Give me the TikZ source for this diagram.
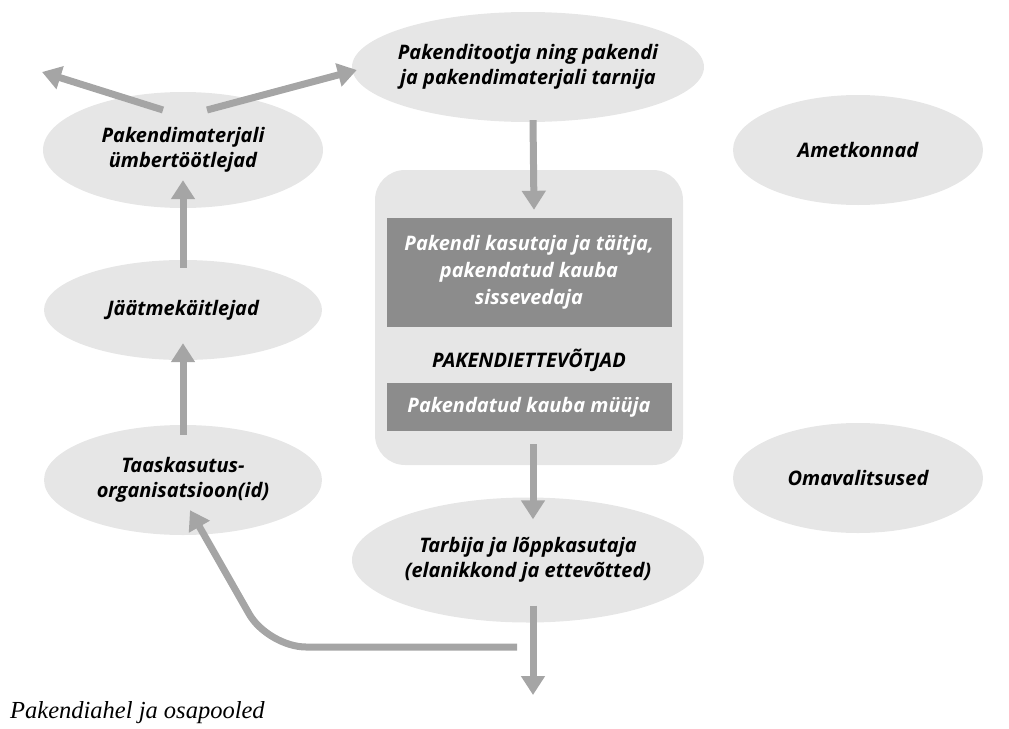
\documentclass[tikz,border=0pt]{standalone}
\usepackage{fontspec}
\setmainfont{Open Sans}
\newfontfamily\capfont{Liberation Serif}
\usetikzlibrary{shapes.geometric,arrows.meta}
\definecolor{ellfill}{HTML}{E6E6E6}
\definecolor{darkbox}{HTML}{8C8C8C}
\definecolor{arrcol}{HTML}{A5A5A5}
\tikzset{
  ell/.style={ellipse, fill=ellfill, inner xsep=-25pt, inner ysep=0pt, align=center,
    font=\fontsize{20}{25.5}\selectfont\bfseries\itshape},
  dbox/.style={rectangle, fill=darkbox, inner sep=0pt, align=center, text=white,
    font=\fontsize{20}{27}\selectfont\bfseries\itshape},
  arr/.style={draw=arrcol, line width=7pt, -{Triangle[length=19pt,width=23pt]}},
}
\begin{document}
\begin{tikzpicture}[x=1pt,y=-1pt]
\useasboundingbox (0,0) rectangle (1009,728);
% ellipses
\node[ell, minimum width=352pt, minimum height=110pt] (top) at (528,67) {Pakenditootja ning pakendi\\ja pakendimaterjali tarnija};
\node[ell, minimum width=280pt, minimum height=116pt] (umb) at (183,150) {Pakendimaterjali\\ümbertöötlejad};
\node[ell, minimum width=250pt, minimum height=110pt] (amet) at (858,150) {Ametkonnad};
\node[ell, minimum width=278pt, minimum height=100pt] (jaat) at (183,310) {Jäätmekäitlejad};
\node[ell, minimum width=278pt, minimum height=110pt] (taas) at (183,480) {Taaskasutus-\\organisatsioon(id)};
\node[ell, minimum width=250pt, minimum height=110pt] (omav) at (858,478) {Omavalitsused};
\node[ell, minimum width=352pt, minimum height=125pt] (tarb) at (528,560) {Tarbija ja lõppkasutaja\\(elanikkond ja ettevõtted)};
% company box
\node[rectangle, rounded corners=30pt, fill=ellfill, minimum width=308pt, minimum height=295pt] (box) at (529,317.5) {};
\node[dbox, minimum width=285pt, minimum height=109pt] (kas) at (529,272.5) {Pakendi kasutaja ja täitja,\\pakendatud kauba\\sissevedaja};
\node[font=\fontsize{20}{24}\selectfont\bfseries\itshape] (pe) at (529,360) {PAKENDIETTEVÕTJAD};
\node[dbox, minimum width=285pt, minimum height=48pt] (muu) at (529,407) {Pakendatud kauba müüja};
% caption
\node[anchor=base west, inner sep=0pt, font=\capfont\itshape\fontsize{24.5}{28}\selectfont] (cap) at (10,718) {Pakendiahel ja osapooled};
% free ends
\coordinate (outdown) at (533,695);
\coordinate (outleft) at (42,72);
\coordinate (ret) at (517,647);
% arrows
\draw[arr] ([xshift=5pt,yshift=2pt]top.south) -- ([xshift=5pt,yshift=-40pt]box.north);
\draw[arr] ([xshift=4pt,yshift=21pt]box.south) -- ([xshift=5pt,yshift=-22pt]tarb.north);
\draw[arr] ([xshift=5pt,yshift=17pt]tarb.south) -- (outdown);
\draw[arr, rounded corners=38pt] (ret) -- (268,647) -- ([xshift=7pt,yshift=25pt]taas.south);
\draw[arr] ([yshift=-10pt]taas.north) -- ([yshift=17pt]jaat.south);
\draw[arr] ([yshift=-8pt]jaat.north) -- ([yshift=28pt]umb.south);
\draw[arr] ([xshift=-20pt,yshift=40pt]umb.center) -- (outleft);
\draw[arr] ([xshift=24pt,yshift=40pt]umb.center) -- ([xshift=5pt,yshift=-3pt]top.west);
\end{tikzpicture}
\end{document}
